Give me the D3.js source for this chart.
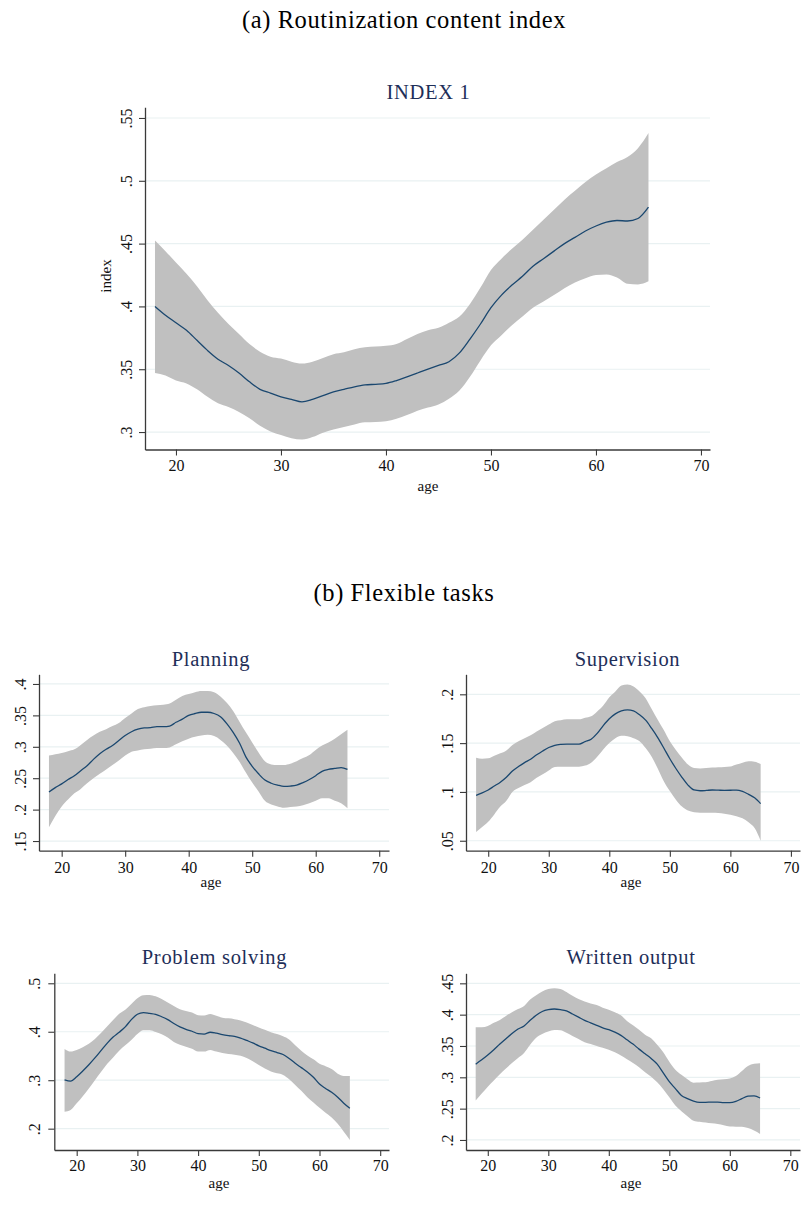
<!DOCTYPE html>
<html>
<head>
<meta charset="utf-8">
<script src="https://cdn.jsdelivr.net/npm/d3@7"></script>
<style>
  html, body { margin: 0; padding: 0; background: #fff; }
  svg { display: block; }
  text { font-family: "Liberation Serif", "Times New Roman", serif; }
</style>
</head>
<body>
<svg id="chart" width="802" height="1207"></svg>
<script>
// Ages at which the local-polynomial fits were evaluated
const ages = [18,19,20,21,22,23,24,25,26,27,28,29,30,31,32,33,34,35,36,37,38,39,40,41,
              42,43,44,45,46,47,48,49,50,51,52,53,54,55,56,57,58,59,60,61,62,63,64,65];

const xTicks = [20, 30, 40, 50, 60, 70];

// INDEX 1 (routinization content index): fit and 95% CI
const index1Mean = [.400,.393,.387,.381,.373,.365,.358,.353,.347,.340,.334,.331,.328,.326,.324,.326,
  .329,.332,.334,.336,.3375,.338,.3387,.341,.344,.347,.350,.353,.356,.363,.374,.386,.399,.409,.417,
  .424,.432,.438,.444,.450,.455,.460,.464,.467,.4684,.468,.470,.479];
const index1Hi = [.4525,.444,.435,.426,.416,.405,.395,.386,.378,.370,.364,.360,.3585,.356,.3545,.356,
  .359,.362,.3635,.366,.3675,.368,.3686,.370,.374,.378,.381,.383,.387,.392,.402,.415,.429,.438,.446,
  .453,.461,.469,.477,.485,.492,.499,.505,.510,.515,.519,.526,.538];
const index1Lo = [.347,.345,.341,.3387,.334,.328,.323,.320,.316,.311,.305,.3005,.2976,.295,.294,.296,
  .2995,.302,.304,.306,.3077,.308,.3085,.3105,.3135,.317,.3195,.322,.3265,.333,.344,.357,.369,.377,
  .385,.392,.399,.404,.409,.4145,.419,.4225,.425,.4255,.423,.418,.4175,.420];
const index1Ticks = [.3, .35, .4, .45, .5, .55];

// Planning
const planningMean = [.228,.235,.241,.248,.254,.262,.270,.280,.289,.296,.302,.310,.318,.324,.328,.330,
  .3305,.332,.332,.333,.339,.344,.350,.353,.355,.355,.353,.348,.337,.323,.306,.284,.269,.257,.247,
  .242,.239,.237,.2375,.239,.243,.248,.254,.261,.264,.2655,.267,.264];
const planningHi = [.286,.288,.290,.293,.296,.303,.311,.318,.324,.328,.333,.338,.346,.353,.360,.363,
  .3648,.366,.367,.369,.375,.381,.384,.387,.389,.389,.387,.380,.370,.357,.340,.323,.307,.291,.277,
  .272,.271,.271,.273,.277,.282,.287,.295,.302,.307,.313,.320,.327];
const planningLo = [.172,.190,.205,.216,.226,.233,.242,.250,.257,.264,.271,.278,.286,.292,.294,.296,
  .297,.298,.298,.299,.304,.309,.313,.316,.318,.319,.317,.311,.302,.290,.276,.259,.243,.229,.214,
  .208,.205,.203,.204,.205,.207,.210,.214,.218,.218,.214,.210,.202];
const planningTicks = [.15, .2, .25, .3, .35, .4];

// Supervision
const supervisionMean = [.0965,.099,.102,.106,.110,.115,.1215,.126,.130,.1335,.138,.142,.1455,.1478,
  .1487,.149,.149,.149,.1515,.154,.160,.168,.175,.180,.183,.184,.183,.179,.1735,.165,.1556,.145,.134,
  .124,.115,.107,.102,.1012,.1015,.102,.1018,.1016,.1017,.1019,.1005,.0975,.094,.088];
const supervisionHi = [.135,.134,.1344,.137,.1395,.1425,.148,.152,.155,.158,.162,.1655,.169,.1725,
  .1735,.1744,.1744,.1744,.176,.1775,.1825,.1885,.197,.203,.209,.210,.208,.203,.196,.185,.174,.1634,
  .152,.143,.135,.128,.1245,.1241,.1245,.125,.1253,.1256,.126,.128,.130,.1315,.131,.1286];
const supervisionLo = [.059,.064,.0694,.077,.085,.091,.100,.104,.107,.110,.1145,.118,.122,.1255,.1258,
  .1258,.1258,.1258,.127,.130,.136,.1435,.150,.155,.1575,.157,.155,.152,.145,.136,.124,.111,.101,
  .092,.085,.081,.0792,.0787,.0787,.0787,.0785,.0777,.0767,.0752,.073,.069,.063,.050];
const supervisionTicks = [.05, .1, .15, .2];

// Problem solving
const problemMean = [.3005,.298,.307,.319,.332,.346,.361,.376,.389,.399,.410,.425,.436,.4395,.438,.436,
  .431,.425,.417,.410,.405,.401,.396,.395,.399,.397,.394,.392,.3905,.387,.382,.377,.371,.366,.361,
  .357,.353,.345,.335,.326,.317,.306,.292,.283,.275,.265,.2525,.242];
const problemHi = [.3645,.359,.3624,.368,.375,.385,.3975,.4106,.424,.437,.4455,.457,.469,.4755,.476,
  .473,.4675,.4605,.453,.4465,.443,.4395,.434,.4335,.4367,.433,.429,.4277,.426,.4233,.419,.414,.409,
  .404,.399,.3954,.3905,.384,.372,.361,.351,.343,.334,.329,.323,.3135,.3087,.3087];
const problemLo = [.235,.2386,.2523,.267,.283,.300,.317,.3335,.347,.361,.372,.383,.3954,.403,.403,
  .3995,.395,.388,.379,.373,.369,.365,.359,.359,.3624,.359,.356,.354,.3525,.3505,.346,.339,.3315,
  .324,.318,.3142,.311,.302,.290,.278,.265,.254,.243,.233,.223,.210,.1938,.1766];
const problemTicks = [.2, .3, .4, .5];

// Written output
const writtenMean = [.321,.328,.3356,.344,.353,.3615,.370,.377,.382,.391,.399,.405,.408,.409,.408,.406,
  .401,.396,.391,.387,.383,.379,.376,.372,.367,.360,.353,.345,.3375,.330,.321,.307,.293,.282,.271,
  .266,.262,.260,.260,.2605,.2605,.2595,.2595,.2615,.266,.270,.2705,.267];
const writtenHi = [.380,.380,.382,.387,.3915,.398,.404,.409,.414,.424,.431,.437,.441,.442,.441,.436,
  .430,.425,.421,.418,.4154,.411,.408,.404,.399,.390,.383,.376,.368,.3625,.352,.340,.325,.312,.304,
  .297,.2915,.2918,.292,.294,.296,.297,.298,.302,.310,.318,.3215,.3223];
const writtenLo = [.263,.274,.285,.295,.3048,.314,.323,.331,.339,.352,.363,.369,.373,.3755,.375,.371,
  .366,.361,.356,.353,.350,.347,.344,.340,.335,.329,.323,.316,.308,.301,.292,.281,.268,.255,.246,
  .238,.2308,.229,.2278,.2265,.2255,.2235,.2215,.2212,.221,.219,.215,.2096];
const writtenTicks = [.2, .25, .3, .35, .4, .45];

// ---- styling ----
const C = {
  band: "#c0c0c0",
  line: "#1a476f",
  grid: "#e9f1f2",
  axis: "#3a3a3a",
  title: "#1e2e58",
  text: "#111"
};

const svg = d3.select("#chart");
const stataFmt = v => String(+v.toFixed(3)).replace(/^0\./, ".");

// Panel layouts (plot region in pixels) and their axis ranges
const panels = [
  { title: "INDEX 1", mean: index1Mean, lo: index1Lo, hi: index1Hi, yTicks: index1Ticks,
    box: { l: 145, r: 710, t: 107.3, b: 449.5 }, xDom: [17.05, 70.86], yDom: [.2861, .5585],
    titleX: 428.5, titleY: 99, ageX: 428, ageY: 491, yLab: "index", yLabX: 111, yLabY: 276,
    yTickGap: 13.5, xTickGap: 21 },
  { title: "Planning", mean: planningMean, lo: planningLo, hi: planningHi, yTicks: planningTicks,
    box: { l: 39, r: 389, t: 674.3, b: 850.7 }, xDom: [16.43, 71.54], yDom: [.1346, .4154],
    titleX: 211, titleY: 666, ageX: 211, ageY: 887, yTickGap: 13.5, xTickGap: 22 },
  { title: "Supervision", mean: supervisionMean, lo: supervisionLo, hi: supervisionHi, yTicks: supervisionTicks,
    box: { l: 466, r: 800, t: 674.3, b: 850.7 }, xDom: [16.33, 71.5], yDom: [.0398, .2205],
    titleX: 627.5, titleY: 666, ageX: 631, ageY: 887, yTickGap: 13, xTickGap: 22 },
  { title: "Problem solving", mean: problemMean, lo: problemLo, hi: problemHi, yTicks: problemTicks,
    box: { l: 54.3, r: 389, t: 973.3, b: 1150 }, xDom: [16.31, 71.45], yDom: [.156, .5206],
    titleX: 214.5, titleY: 964, ageX: 219, ageY: 1188, yTickGap: 14, xTickGap: 21 },
  { title: "Written output", mean: writtenMean, lo: writtenLo, hi: writtenHi, yTicks: writtenTicks,
    box: { l: 466, r: 800, t: 973.3, b: 1150 }, xDom: [16.4, 71.6], yDom: [.184, .466],
    titleX: 631, titleY: 964, ageX: 631, ageY: 1188, yTickGap: 13, xTickGap: 21 }
];

// Section headings
svg.append("text").attr("x", 404).attr("y", 28).attr("text-anchor", "middle")
  .attr("font-size", 24.5).attr("letter-spacing", 0.6).attr("fill", "#000")
  .text("(a) Routinization content index");
svg.append("text").attr("x", 404).attr("y", 601).attr("text-anchor", "middle")
  .attr("font-size", 24.5).attr("letter-spacing", 0.6).attr("fill", "#000")
  .text("(b) Flexible tasks");

panels.forEach(p => {
  const x = d3.scaleLinear().domain(p.xDom).range([p.box.l, p.box.r]);
  const y = d3.scaleLinear().domain(p.yDom).range([p.box.b, p.box.t]);
  const g = svg.append("g");

  // horizontal grid
  g.append("g").selectAll("line").data(p.yTicks).join("line")
    .attr("x1", p.box.l).attr("x2", p.box.r)
    .attr("y1", d => y(d)).attr("y2", d => y(d))
    .attr("stroke", C.grid).attr("stroke-width", 1.2);

  const rows = ages.map((a, i) => ({ age: a, m: p.mean[i], lo: p.lo[i], hi: p.hi[i] }));

  // confidence band
  g.append("path").datum(rows)
    .attr("d", d3.area().x(d => x(d.age)).y0(d => y(d.lo)).y1(d => y(d.hi)).curve(d3.curveMonotoneX))
    .attr("fill", C.band);

  // fitted line
  g.append("path").datum(rows)
    .attr("d", d3.line().x(d => x(d.age)).y(d => y(d.m)).curve(d3.curveMonotoneX))
    .attr("fill", "none").attr("stroke", C.line).attr("stroke-width", 1.3);

  // y axis with vertical tick labels
  const ya = g.append("g").attr("transform", `translate(${p.box.l},0)`)
    .call(d3.axisLeft(y).tickValues(p.yTicks).tickFormat(stataFmt).tickSize(6).tickSizeOuter(0));
  ya.selectAll("text")
    .attr("transform", "rotate(-90)")
    .attr("x", 0).attr("y", -p.yTickGap).attr("dy", 0)
    .attr("text-anchor", "middle");

  // x axis
  const xa = g.append("g").attr("transform", `translate(0,${p.box.b})`)
    .call(d3.axisBottom(x).tickValues(xTicks).tickFormat(d3.format("d")).tickSize(6).tickSizeOuter(0));
  xa.selectAll("text").attr("y", p.xTickGap).attr("dy", 0);

  [ya, xa].forEach(a => {
    a.select(".domain").attr("stroke", C.axis).attr("stroke-width", 1.3);
    a.selectAll(".tick line").attr("stroke", C.axis).attr("stroke-width", 1.1);
    a.selectAll("text").attr("font-family", "Liberation Serif, serif")
      .attr("font-size", 16).attr("fill", C.text);
  });

  // titles
  g.append("text").attr("x", p.titleX).attr("y", p.titleY).attr("text-anchor", "middle")
    .attr("font-size", 20.5).attr("letter-spacing", 0.7).attr("fill", C.title).text(p.title);
  g.append("text").attr("x", p.ageX).attr("y", p.ageY).attr("text-anchor", "middle")
    .attr("font-size", 15).attr("fill", C.text).text("age");
  if (p.yLab) {
    g.append("text").attr("transform", `translate(${p.yLabX},${p.yLabY}) rotate(-90)`)
      .attr("text-anchor", "middle").attr("font-size", 15).attr("fill", C.text).text(p.yLab);
  }
});
</script>
</body>
</html>
